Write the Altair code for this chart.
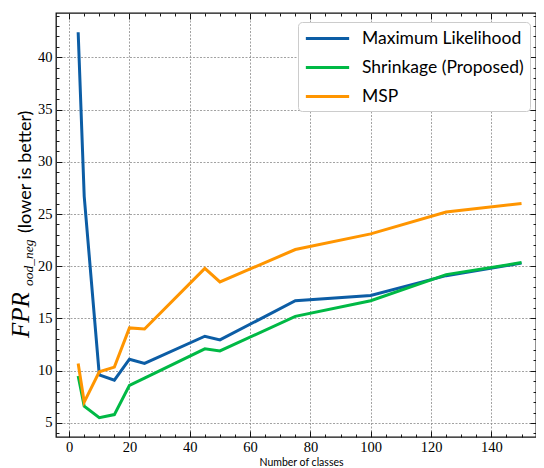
import altair as alt
import pandas as pd

# ---- data ----
classes = [3, 5, 10, 15, 20, 25, 45, 50, 75, 100, 125, 150]
ml_vals = [42.4, 26.7, 9.6, 9.1, 11.1, 10.7, 13.3, 12.95, 16.7, 17.2, 19.1, 20.3]
shrink_vals = [9.5, 6.6, 5.5, 5.8, 8.6, 9.3, 12.1, 11.9, 15.2, 16.7, 19.2, 20.35]
msp_vals = [10.7, 7.0, 9.9, 10.35, 14.1, 14.0, 19.8, 18.5, 21.6, 23.1, 25.2, 26.0]
series_names = ["Maximum Likelihood", "Shrinkage (Proposed)", "MSP"]
series_colors = ["#0C5DA5", "#00B945", "#FF9500"]

x_major = [0, 20, 40, 60, 80, 100, 120, 140]
x_minor = [v for v in range(0, 155, 5) if v % 20 != 0]
y_major = [5, 10, 15, 20, 25, 30, 35, 40]
y_minor = [v for v in range(4, 45) if v % 5 != 0]

x_title = "Number of classes"
y_title_main = ["FPR"]
y_title_sub = ["ood_neg"]
y_title_rest = ["(lower is better)"]

X_DOMAIN = [-4.35, 154.8]
Y_DOMAIN = [3.655, 44.245]
W, H = 480, 424

rows = []
for name, vals in zip(series_names, [ml_vals, shrink_vals, msp_vals]):
    for c, v in zip(classes, vals):
        rows.append({"classes": c, "value": v, "series": name})
df = pd.DataFrame(rows)

xscale = alt.Scale(domain=X_DOMAIN, nice=False, zero=False)
yscale = alt.Scale(domain=Y_DOMAIN, nice=False, zero=False)

SERIF = "Liberation Serif"
SANS = "Lato"

label_x_axis = alt.Axis(
    orient="bottom", values=x_major, format="d", grid=True, gridDash=[2, 1.5],
    gridColor="#8a8a8a", gridWidth=0.8, gridOpacity=1, ticks=False, domain=False,
    labelFont=SERIF, labelFontSize=14.5, labelColor="#000", labelPadding=3,
    title=x_title, titleFont=SANS, titleFontSize=10.5, titleFontWeight="normal",
    titleColor="#000", titleX=245, titleY=28, titleAlign="center",
    titleBaseline="alphabetic",
)
label_y_axis = alt.Axis(
    orient="left", values=y_major, format="d", grid=True, gridDash=[2, 1.5],
    gridColor="#8a8a8a", gridWidth=0.8, gridOpacity=1, ticks=False, domain=False,
    labelFont=SERIF, labelFontSize=14.5, labelColor="#000", labelPadding=4,
    title=None,
)


def tick_axis(orient, values, size):
    return alt.Axis(
        orient=orient, values=values, labels=False, domain=False, grid=False,
        ticks=True, tickSize=size, tickColor="#000", tickWidth=0.9,
        offset=-size, title=None,
    )


lines = alt.Chart(df).mark_line(strokeWidth=3).encode(
    x=alt.X("classes:Q", scale=xscale, axis=label_x_axis),
    y=alt.Y("value:Q", scale=yscale, axis=label_y_axis),
    color=alt.Color(
        "series:N",
        scale=alt.Scale(domain=series_names, range=series_colors),
        legend=alt.Legend(
            orient="none", legendX=242, legendY=9, title=None,
            symbolType="M-2.5,0H2.5", symbolSize=300, symbolStrokeWidth=3,
            symbolOffset=13,
            labelFont=SANS, labelFontSize=17.5, labelColor="#000", labelOffset=24,
            labelLimit=300, fillColor="white", strokeColor="#cccccc",
            cornerRadius=4, padding=6, rowPadding=10,
        ),
    ),
)


def tick_layer(xo, xv, yo, yv, size):
    return alt.Chart(df).mark_point(opacity=0).encode(
        x=alt.X("classes:Q", scale=xscale, axis=tick_axis(xo, xv, size)),
        y=alt.Y("value:Q", scale=yscale, axis=tick_axis(yo, yv, size)),
    )


t1 = tick_layer("bottom", x_major, "left", y_major, 6)
t2 = tick_layer("bottom", x_minor, "left", y_minor, 3)
t3 = tick_layer("top", x_major, "right", y_major, 6)
t4 = tick_layer("top", x_minor, "right", y_minor, 3)

title_main = alt.Chart(pd.DataFrame({"t": y_title_main})).mark_text(
    angle=270, align="left", baseline="alphabetic", font=SERIF,
    fontStyle="italic", fontSize=25, color="#000",
).encode(text="t:N", x=alt.value(-27), y=alt.value(325))

title_sub = alt.Chart(pd.DataFrame({"t": y_title_sub})).mark_text(
    angle=270, align="left", baseline="alphabetic", font=SERIF,
    fontStyle="italic", fontSize=13.5, color="#000",
).encode(text="t:N", x=alt.value(-23), y=alt.value(273))

title_rest = alt.Chart(pd.DataFrame({"t": y_title_rest})).mark_text(
    angle=270, align="left", baseline="alphabetic", font=SANS,
    fontSize=18, color="#000",
).encode(text="t:N", x=alt.value(-25), y=alt.value(220))

chart = alt.layer(t1, t2, t3, t4, lines, title_main, title_sub, title_rest).resolve_axis(
    x="independent", y="independent"
).properties(
    width=W, height=H,
    autosize=alt.AutoSizeParams(type="none"),
    padding={"left": 48, "top": 5, "right": 0, "bottom": 30},
    background="white",
).configure_view(stroke="#111", strokeWidth=1.3)

chart.save("out.html", embed_options={"renderer": "svg", "actions": False})
